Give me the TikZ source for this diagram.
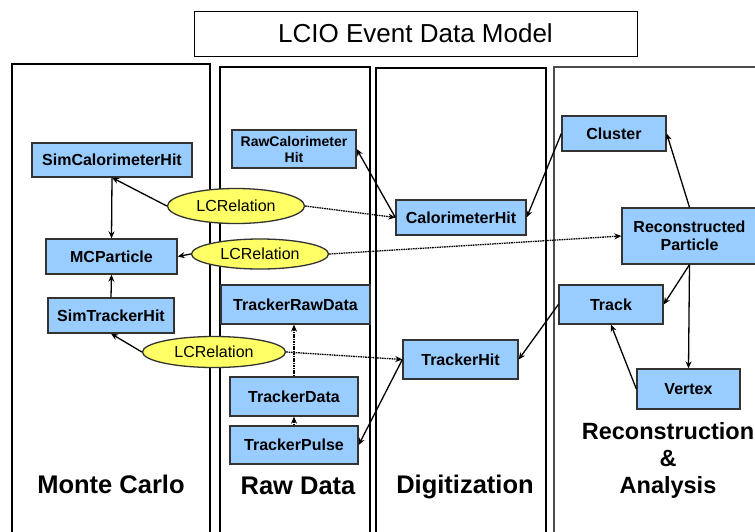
\documentclass[tikz,border=0pt]{standalone}
\usepackage{fontspec}
\setmainfont{Liberation Sans}
\usetikzlibrary{arrows.meta,shapes.geometric}
\definecolor{boxblue}{RGB}{153,204,255}
\definecolor{relyellow}{RGB}{255,255,102}
\begin{document}
\begin{tikzpicture}[x=1pt,y=-1pt,
  cls/.style={draw=black!80,line width=1.3pt,fill=boxblue,inner sep=0pt,font=\fontsize{16}{18}\selectfont\bfseries,align=center},
  rel/.style={ellipse,draw=black!80,line width=1.3pt,fill=relyellow,inner sep=0pt,font=\fontsize{16}{18}\selectfont},
  colbox/.style={draw=black,line width=1.4pt},
  arr/.style={line width=1.3pt,-{Stealth[length=7pt,width=6pt]}},
  dotarr/.style={arr,dash pattern=on 1.6pt off 0.8pt},
  collabel/.style={font=\fontsize{25.5}{28}\selectfont\bfseries,align=center}]
\useasboundingbox (0,0) rectangle (755,531);
\clip (0,0) rectangle (755,531);
\fill[white] (0,0) rectangle (755,531);

% title
\node[draw=black,line width=0.9pt,minimum width=443pt,minimum height=45pt,inner sep=0pt,
  font=\fontsize{26}{30}\selectfont] (title) at (415.5,33.5) {LCIO Event Data Model};

% columns
\draw[colbox] (12,545) -- (12,64) -- (210,64) -- (210,545);
\draw[colbox] (220,545) -- (220,67) -- (370,67) -- (370,545);
\draw[colbox] (376,545) -- (376,68) -- (546,68) -- (546,545);
\draw[colbox,draw=black!70] (554,545) -- (554,67) -- (770,67);

% nodes
\node[cls,minimum width=160pt,minimum height=34pt] (simcal) at (112,160) {SimCalorimeterHit};
\node[cls,minimum width=131pt,minimum height=35pt] (mcp) at (111.5,256.5) {MCParticle};
\node[cls,minimum width=126pt,minimum height=35pt] (simtrk) at (111,315.5) {SimTrackerHit};
\node[cls,minimum width=124pt,minimum height=38pt,font=\fontsize{14}{16}\selectfont\bfseries] (rawcal) at (294,149) {RawCalorimeter\\Hit};
\node[cls,minimum width=149pt,minimum height=39pt] (trkraw) at (295.5,304.5) {TrackerRawData};
\node[cls,minimum width=128pt,minimum height=39pt] (trkdata) at (294,396.5) {TrackerData};
\node[cls,minimum width=128pt,minimum height=38pt] (trkpulse) at (294,445) {TrackerPulse};
\node[cls,minimum width=130pt,minimum height=35pt] (calohit) at (461,217.5) {CalorimeterHit};
\node[cls,minimum width=115pt,minimum height=39pt] (trkhit) at (460.5,359.5) {TrackerHit};
\node[cls,minimum width=104pt,minimum height=35pt] (cluster) at (614,133.5) {Cluster};
\node[cls,minimum width=135pt,minimum height=56pt] (reco) at (689.5,236) {Reconstructed\\Particle};
\node[cls,minimum width=104pt,minimum height=39pt] (track) at (611,304.5) {Track};
\node[cls,minimum width=103pt,minimum height=40pt] (vertex) at (688.5,389) {Vertex};

% relations
\node[rel,minimum width=137pt,minimum height=35pt] (rel1) at (236,206) {LCRelation};
\node[rel,minimum width=137pt,minimum height=30pt] (rel2) at (260,254) {LCRelation};
\node[rel,minimum width=143pt,minimum height=31pt] (rel3) at (214,352) {LCRelation};

% connectors
\draw[arr] (simcal.south) -- (mcp.north);
\draw[arr] (simtrk.north) -- (mcp.south);
\draw[arr] (rel1.west) -- (simcal.south);
\draw[dotarr] (rel1.east) -- (calohit.west);
\draw[arr] (rel2.west) -- (mcp.east);
\draw[dotarr] (rel2.east) -- (reco.west);
\draw[arr] (rel3.west) -- (simtrk.south);
\draw[dotarr] (rel3.east) -- (trkhit.west);
\draw[arr] (calohit.west) -- (rawcal.east);
\draw[arr] (cluster.west) -- (calohit.east);
\draw[arr] (reco.north) -- (cluster.east);
\draw[arr] (reco.south) -- (track.east);
\draw[arr] (reco.south) -- (vertex.north);
\draw[arr] (vertex.west) -- (track.south);
\draw[arr] (track.west) -- (trkhit.east);
\draw[arr] (trkhit.west) -- (trkpulse.east);
\draw[dotarr] (trkdata.north) -- (trkdata.north |- trkraw.south);
\draw[dotarr] (trkpulse.north) -- (trkdata.south);

% column labels
\node[collabel] (lmc) at (111,484) {Monte Carlo};
\node[collabel] (lraw) at (298,486) {Raw Data};
\node[collabel] (ldig) at (465,487) {Digitization};
\node[collabel,font=\fontsize{23.5}{27}\selectfont\bfseries] (lreco) at (668,460) {Reconstruction\\\&\\Analysis};
\end{tikzpicture}
\end{document}
